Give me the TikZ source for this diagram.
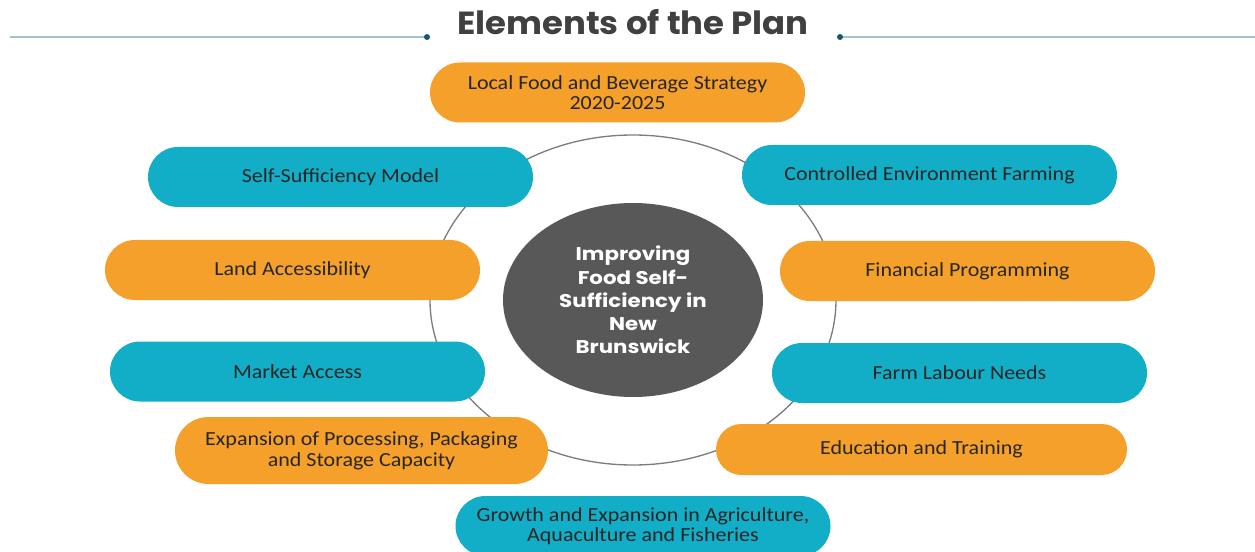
\documentclass[tikz,border=0pt]{standalone}
\usepackage{fontspec}
\setmainfont{Carlito}[FakeStretch=1.1]
\newfontfamily\headfont{Poppins}[FakeStretch=1.06]
\newfontfamily\hubfont{Poppins}[FakeStretch=1.16]
\usetikzlibrary{shapes.misc,shapes.geometric}

\definecolor{pillorange}{RGB}{244,160,42}
\definecolor{pillteal}{RGB}{18,174,199}
\definecolor{hubgray}{RGB}{88,88,88}
\definecolor{rulecol}{RGB}{160,196,204}
\definecolor{dotcol}{RGB}{22,90,105}
\definecolor{inkcol}{RGB}{38,38,38}
\definecolor{titlecol}{RGB}{64,64,64}
\definecolor{ringcol}{RGB}{125,125,125}

\tikzset{
  pill/.style={rounded rectangle, minimum height=45pt, minimum width=281.25pt,
    inner sep=0pt, text=inkcol, align=center,
    font=\fontsize{15}{15.5}\selectfont},
  pillo/.style={pill, fill=pillorange},
  pillt/.style={pill, fill=pillteal},
}

\begin{document}
\begin{tikzpicture}[x=0.75pt,y=0.75pt,yscale=-1,xscale=1]
\useasboundingbox (0,0) rectangle (1255,552);

% Title
\node (title) at (633,22) {\headfont\bfseries\fontsize{24}{26}\selectfont\color{titlecol}Elements of the Plan};
\coordinate (ruleL) at (10,37);
\coordinate (dotL) at (427,37);
\coordinate (dotR) at (840,37);
\coordinate (ruleR) at (1255,37);
\draw [rulecol, line width=1.5] (ruleL) -- (dotL);
\draw [rulecol, line width=1.5] (dotR) -- (ruleR);
\fill [dotcol] (dotL) circle (3);
\fill [dotcol] (dotR) circle (3);

% Hub and ring
\node [ellipse, fill=hubgray, minimum width=195pt, minimum height=145.5pt, inner sep=0pt,
  text=white, align=center, font=\hubfont\bfseries\fontsize{13.8}{17.4}\selectfont]
  (hub) at (633,300) {Improving\\Food Self-\\Sufficiency in\\New\\Brunswick};
\draw [ringcol, line width=1] (hub.center) ellipse [x radius=203, y radius=165];

% Pills
\node [pillo] (strategy) at (617.5,92.5) {Local Food and Beverage Strategy\\2020-2025};
\node [pillt, minimum width=288.75pt] (model) at (340.5,177) {Self-Sufficiency Model};
\node [pillt] (farming) at (929.5,175) {Controlled Environment Farming};
\node [pillo] (land) at (292.5,270) {Land Accessibility};
\node [pillo] (finance) at (967.5,271) {Financial Programming};
\node [pillt] (market) at (297.5,371.5) {Market Access};
\node [pillt] (labour) at (959.5,373) {Farm Labour Needs};
\node [pillo, minimum width=279.75pt, minimum height=50.25pt] (storage) at (361.5,450.5) {Expansion of Processing, Packaging\\and Storage Capacity};
\node [pillo, minimum width=308.25pt, minimum height=38.25pt] (training) at (921.5,449.5) {Education and Training};
\node [pillt] (growth) at (643,526) {Growth and Expansion in Agriculture,\\Aquaculture and Fisheries};

\end{tikzpicture}
\end{document}
